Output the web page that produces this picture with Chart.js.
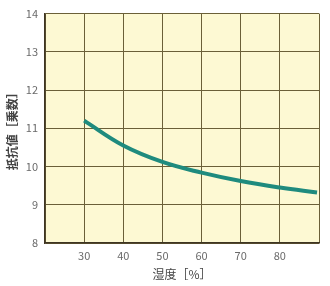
<!DOCTYPE html>
<html>
<head>
<meta charset="utf-8">
<script src="https://cdn.jsdelivr.net/npm/chart.js@4"></script>
<style>
  html, body { margin: 0; padding: 0; background: #ffffff; }
  #wrap { width: 330px; height: 286px; }
</style>
</head>
<body>
<div id="wrap"><canvas id="humidityChart"></canvas></div>
<script>
// data
const humidity = [30, 40, 50, 60, 70, 80, 89.5];
const resistance = [11.2, 10.55, 10.12, 9.84, 9.62, 9.45, 9.32];
const xTicks = [30, 40, 50, 60, 70, 80];
const yTicks = [8, 9, 10, 11, 12, 13, 14];

const fontJP = '"Noto Sans CJK JP", "Noto Sans", sans-serif';

// yellow fill behind the plot area
const plotBg = {
    id: 'plotBg',
    beforeDraw(chart) {
        const { ctx, chartArea } = chart;
        ctx.save();
        ctx.fillStyle = '#fdf9d3';
        ctx.fillRect(chartArea.left, chartArea.top, chartArea.right - chartArea.left, chartArea.bottom - chartArea.top);
        ctx.restore();
    }
};

const ctx = document.getElementById('humidityChart').getContext('2d');
const humidityChart = new Chart(ctx, {
    type: 'line',
    data: {
        datasets: [{
            label: '抵抗値',
            data: humidity.map((h, i) => ({ x: h, y: resistance[i] })),
            borderColor: '#1f8b7e',
            borderWidth: 4,
            pointRadius: 0,
            tension: 0.4,
            fill: false
        }]
    },
    options: {
        responsive: true,
        maintainAspectRatio: false,
        animation: false,
        layout: {
            padding: { top: 8, right: 11, left: 0, bottom: 0 }
        },
        plugins: {
            legend: { display: false },
            tooltip: { enabled: false }
        },
        scales: {
            x: {
                type: 'linear',
                min: 20,
                max: 90,
                afterFit(scale) { scale.height = 43; },
                ticks: {
                    stepSize: 10,
                    padding: 6,
                    color: '#6a6a6a',
                    font: { size: 11, family: fontJP },
                    callback: (v) => xTicks.includes(v) ? v : ''
                },
                grid: {
                    color: '#6b6038',
                    lineWidth: 1,
                    drawTicks: false
                },
                border: { color: '#3e3522', width: 1.5 },
                title: {
                    display: true,
                    text: '湿度［%］',
                    color: '#444444',
                    padding: { top: 4 },
                    font: { size: 12, family: fontJP }
                }
            },
            y: {
                min: 8,
                max: 14,
                afterFit(scale) { scale.width = 45; },
                ticks: {
                    stepSize: 1,
                    padding: 7,
                    color: '#6a6a6a',
                    font: { size: 11, family: fontJP },
                    callback: (v) => yTicks.includes(v) ? v : ''
                },
                grid: {
                    color: '#6b6038',
                    lineWidth: 1,
                    drawTicks: false
                },
                border: { color: '#3e3522', width: 1.5 },
                title: {
                    display: true,
                    text: '抵抗値［乗数］',
                    color: '#444444',
                    padding: { top: 5, bottom: 0 },
                    font: { size: 12, weight: 'bold', family: fontJP }
                }
            }
        }
    },
    plugins: [plotBg]
});
</script>
</body>
</html>
